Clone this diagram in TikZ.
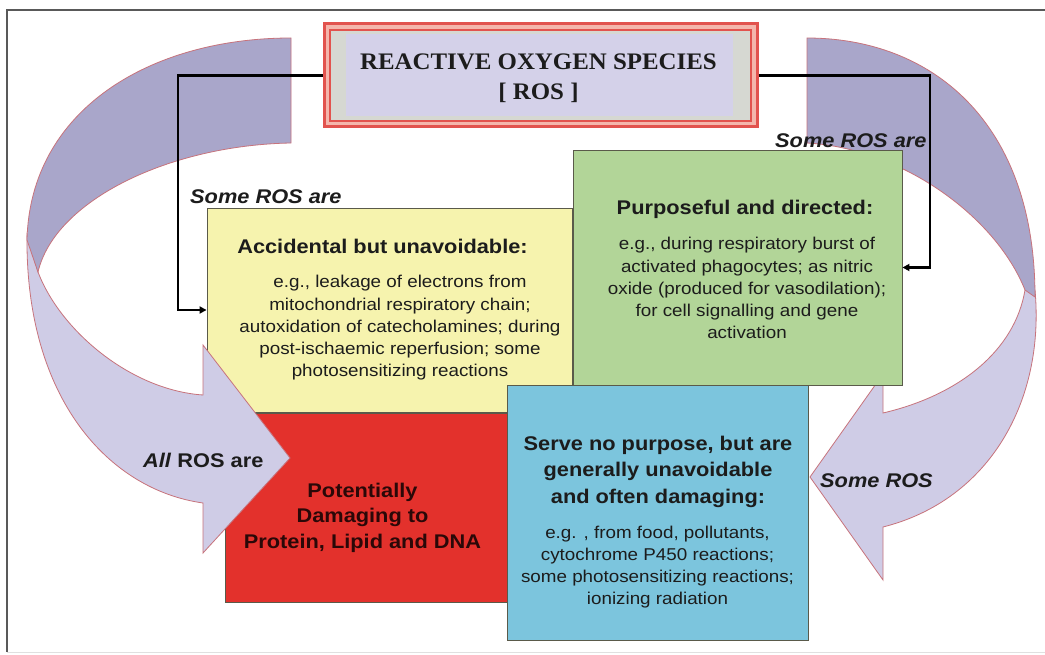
\documentclass[tikz,border=0pt]{standalone}
\usepackage{fontspec}
\setmainfont{Liberation Sans}
\newfontfamily\sansx[FakeStretch=1.1]{Liberation Sans}
\newfontfamily\serifx[FakeStretch=1.05]{Liberation Serif}
\usetikzlibrary{arrows.meta}
\definecolor{ribL}{HTML}{CFCCE6}
\definecolor{ribD}{HTML}{A9A6CA}
\definecolor{ribE}{HTML}{C7737C}
\definecolor{boxline}{HTML}{5A5A4A}
\definecolor{yel}{HTML}{F6F3AE}
\definecolor{grn}{HTML}{B2D598}
\definecolor{rd}{HTML}{E3312C}
\definecolor{blu}{HTML}{7CC5DD}
\definecolor{txt}{HTML}{1C1C1C}
\definecolor{redtxt}{HTML}{2A0808}
\definecolor{tred}{HTML}{E2534E}
\definecolor{tpink}{HTML}{F4B6AC}
\definecolor{tgrey}{HTML}{D6D8D2}
\definecolor{tlav}{HTML}{D4D1E9}
\begin{document}
\begin{tikzpicture}[x=1pt,y=-1pt,
  box/.style={draw=boxline, line width=0.9pt, inner sep=0pt, rectangle},
  hd/.style={font=\sansx\bfseries\fontsize{19.8}{26.5}\selectfont, text=txt, inner sep=0pt, align=center},
  bd/.style={font=\sansx\fontsize{17.1}{22.25}\selectfont, text=txt, inner sep=0pt, align=center},
  lab/.style={font=\sansx\bfseries\itshape\fontsize{19.8}{22}\selectfont, text=txt, inner sep=0pt, anchor=base west},
  rib/.style={draw=ribE, line width=0.8pt},
  conn/.style={line width=2.2pt, draw=black, -{Triangle[length=7pt,width=7pt]}}
]
\useasboundingbox (0,0) rectangle (1045,655);
\fill[white] (0,0) rectangle (1045,655);
% frame
\draw[line width=1.4pt, draw=black!65] (1045,10) -- (7,10) -- (7,652);
\draw[line width=0.8pt, draw=black!12] (7,652) -- (1045,652);

% right ribbon
\filldraw[rib, fill=ribL] (1035,290) .. controls (1045,400) and (990,500) .. (883,527) -- (883,580) -- (810,477) -- (883,374) -- (883,413) .. controls (960,395) and (1015,350) .. (1025,290) -- cycle;
\filldraw[rib, fill=ribD] (807,38) .. controls (930,38) and (1035,120) .. (1035,297) -- (1025,290) .. controls (995,215) and (900,148) .. (807,143) -- cycle;

% boxes
\node[box, fill=yel, minimum width=365pt, minimum height=204pt] (yellow) at (389.5,310) {};
\node[box, fill=grn, minimum width=329pt, minimum height=235pt] (green) at (737.5,267.5) {};
\node[box, fill=blu, minimum width=301pt, minimum height=255pt] (blue) at (657.5,512.5) {};
\node[box, fill=rd, minimum width=282pt, minimum height=189pt] (red) at (366,507.5) {};

% left ribbon
\filldraw[rib, fill=ribL] (27,235) .. controls (25,400) and (110,490) .. (203,503) -- (203,553) -- (290,458) -- (203,345) -- (203,395) .. controls (130,390) and (60,330) .. (38,272) -- cycle;
\filldraw[rib, fill=ribD] (291,38) .. controls (150,38) and (30,110) .. (27,240) -- (38,272) .. controls (55,200) and (170,145) .. (291,143) -- cycle;

% title box
\node[draw=tred, line width=3pt, fill=tpink, minimum width=433pt, minimum height=103pt, inner sep=0pt] (title) at (540.5,75.5) {};
\node[draw=tred, line width=2pt, fill=tgrey, minimum width=421pt, minimum height=91pt, inner sep=0pt] (titlein) at (540.5,75.5) {};
\node[fill=tlav, minimum width=387pt, minimum height=82pt, inner sep=0pt] (titlelav) at (539.5,75.5) {};
\node[font=\serifx\bfseries\fontsize{23.7}{30}\selectfont, text=txt, align=center, inner sep=0pt] (titletext) at (538.5,79) {\strut REACTIVE OXYGEN SPECIES\\\strut [ ROS ]};

% connectors
\coordinate (lc1) at (178,75.5);
\coordinate (lc2) at (178,310);
\coordinate (rc1) at (930,75.5);
\coordinate (rc2) at (930,267.5);
\draw[conn] (title.west) -- (lc1) -- (lc2) -- (yellow.west);
\draw[conn] (title.east) -- (rc1) -- (rc2) -- (green.east);

% texts
\node[hd, anchor=base] (yhd) at (382.5,254) {Accidental but unavoidable:};
\node[bd] (ybd) at (400,328) {\strut e.g., leakage of electrons from\\\strut mitochondrial respiratory chain;\\\strut autoxidation of catecholamines; during\\\strut post-ischaemic reperfusion; some\\\strut photosensitizing reactions};
\node[hd, anchor=base] (ghd) at (745,215) {Purposeful and directed:};
\node[bd] (gbd) at (747,290) {\strut e.g., during respiratory burst of\\\strut activated phagocytes; as nitric\\\strut oxide (produced for vasodilation);\\\strut for cell signalling and gene\\\strut activation};
\node[hd] (bhd) at (658,471.2) {\strut Serve no purpose, but are\\\strut generally unavoidable\\\strut and often damaging:};
\node[bd] (bbd) at (657.5,567) {\strut e.g. , from food, pollutants,\\\strut cytochrome P450 reactions;\\\strut some photosensitizing reactions;\\\strut ionizing radiation};
\node[hd, text=redtxt, font=\sansx\bfseries\fontsize{19.8}{25.5}\selectfont] (rtx) at (362.5,517.4) {\strut Potentially\\\strut Damaging to\\\strut Protein, Lipid and DNA};

\node[lab] (l1) at (190,204) {Some ROS are};
\node[lab] (l2) at (775,148) {Some ROS are};
\node[lab, font=\sansx\bfseries\fontsize{19.8}{22}\selectfont] (l3) at (143,467) {\textit{All} ROS are};
\node[lab] (l4) at (820,487) {Some ROS};
\end{tikzpicture}
\end{document}
